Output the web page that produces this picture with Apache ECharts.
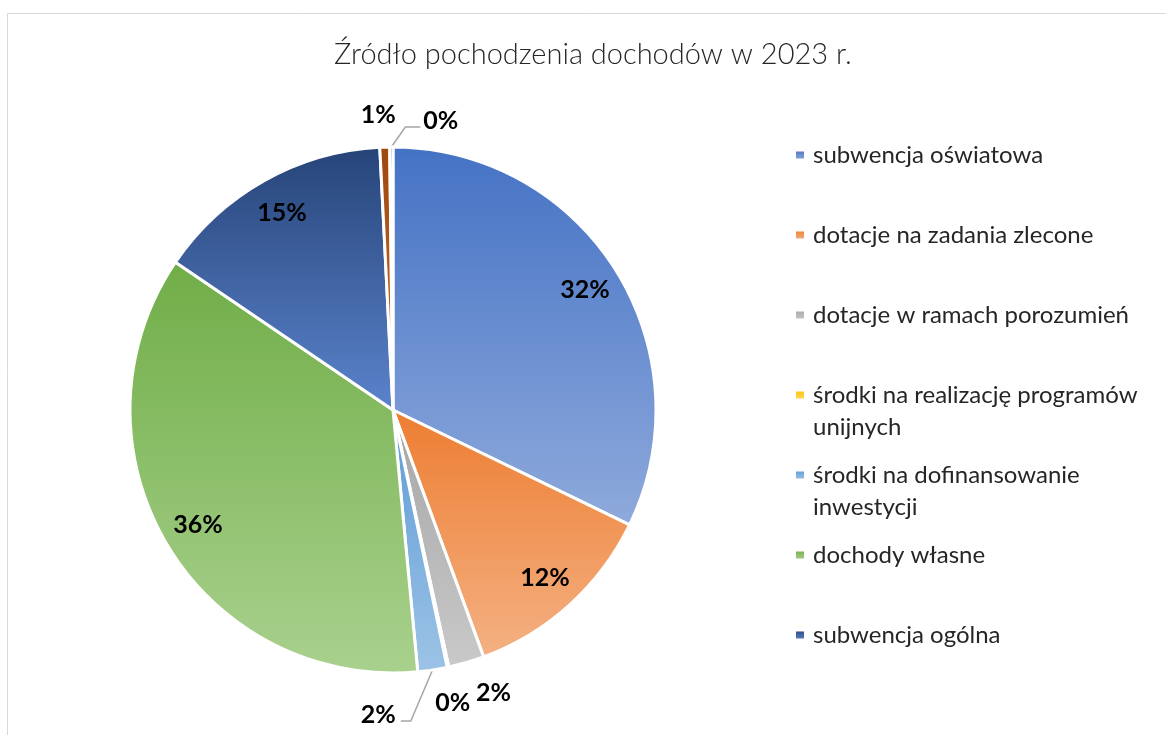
<!DOCTYPE html>
<html>
<head>
<meta charset="utf-8">
<title>Źródło pochodzenia dochodów w 2023 r.</title>
<script src="https://cdn.jsdelivr.net/npm/echarts@6/dist/echarts.min.js"></script>
<style>
  html, body { margin: 0; padding: 0; background: #fff; }
  #chart { width: 1166px; height: 735px; }
</style>
</head>
<body>
<div id="chart"></div>
<script>
const chartTitle = 'Źródło pochodzenia dochodów w 2023 r.'
const categories = [
  'subwencja oświatowa',
  'dotacje na zadania zlecone',
  'dotacje w ramach porozumień',
  'środki na realizację programów unijnych',
  'środki na dofinansowanie inwestycji',
  'dochody własne',
  'subwencja ogólna',
  'pozostałe dochody',
  'inne wpływy'
]
// udział w %
const shares = [32.2, 12.2, 2.2, 0.1, 1.8, 36.0, 14.7, 0.6, 0.2]
// legenda w oryginale pokazuje tylko 7 pierwszych pozycji
const legendCount = 7

const font = 'Lato'
// kolory Office z gradientem (góra -> dół)
const fills = [
  ['#4472C4', '#8FAADC'],
  ['#ED7D31', '#F4B183'],
  ['#A5A5A5', '#C9C9C9'],
  ['#FFC000', '#FFD966'],
  ['#5B9BD5', '#9DC3E6'],
  ['#70AD47', '#A9D18E'],
  ['#264478', '#5B83CC'],
  ['#9E480E', '#C87235'],
  ['#636363', '#A0A0A0']
]
// przesunięcia etykiet małych wycinków, z linią odniesienia lub bez
const smallLabels = {
  'dotacje w ramach porozumień': { shift: [4, 28], line: false },
  'środki na realizację programów unijnych': { shift: [-18, 34], line: false },
  'środki na dofinansowanie inwestycji': { shift: [-77, 43], line: true },
  'pozostałe dochody': { shift: [16, -30], line: false },
  'inne wpływy': { shift: [72, -24], line: true }
}

function gradient(pair) {
  return new echarts.graphic.LinearGradient(0, 0, 0, 1, [
    { offset: 0, color: pair[0] },
    { offset: 1, color: pair[1] }
  ])
}

function wrap(text, max) {
  const lines = []
  let cur = ''
  text.split(' ').forEach(w => {
    if (cur && (cur + ' ' + w).length > max) {
      lines.push(cur)
      cur = w
    } else {
      cur = cur ? cur + ' ' + w : w
    }
  })
  lines.push(cur)
  if (lines.length < 2) lines.push(' ')
  // pusta linia na górze: ikona legendy stoi wtedy na wysokości pierwszej linii tekstu,
  // a każda pozycja ma tę samą wysokość (jak w Excelu)
  return ' \n' + lines.join('\n')
}

const labelFont = {
  fontFamily: font,
  fontWeight: 'bold',
  fontSize: 25,
  color: '#000'
}
const pct = p => Math.round(p.percent) + '%'

const chart = echarts.init(document.getElementById('chart'))

chart.setOption({
  animation: false,
  title: {
    text: chartTitle,
    left: 593,
    top: 40,
    padding: 0,
    textAlign: 'center',
    textStyle: {
      fontFamily: font,
      fontWeight: 300,
      fontSize: 29,
      color: '#262626'
    }
  },
  graphic: [{
    type: 'rect',
    silent: true,
    z: -10,
    shape: { x: 7.5, y: 13.5, width: 1200, height: 800 },
    style: { fill: 'none', stroke: '#d9d9d9', lineWidth: 1 }
  }],
  legend: {
    orient: 'vertical',
    left: 794,
    top: 107,
    padding: 0,
    itemGap: -16,
    itemWidth: 10,
    itemHeight: 9,
    icon: 'rect',
    selectedMode: false,
    formatter: name => wrap(name, 30),
    textStyle: {
      fontFamily: font,
      fontSize: 24,
      lineHeight: 32,
      color: '#262626',
      padding: [0, 0, 0, 3],
      backgroundColor: 'rgba(255,255,255,0)'
    },
    data: categories.slice(0, legendCount)
  },
  series: [
    {
      type: 'pie',
      center: [393, 410],
      radius: 263,
      startAngle: 90,
      avoidLabelOverlap: false,
      itemStyle: { borderColor: '#fff', borderWidth: 3 },
      label: { show: false },
      labelLine: {
        show: false,
        length: 2,
        length2: 0,
        lineStyle: { color: '#a6a6a6', width: 1.5 }
      },
      labelLayout: params => {
        const cfg = smallLabels[categories[params.dataIndex]]
        if (!cfg) return {}
        const out = { dx: cfg.shift[0], dy: cfg.shift[1] }
        if (cfg.line && params.labelLinePoints) {
          const start = params.labelLinePoints[0]
          const r = params.labelRect
          const left = r.x + cfg.shift[0]
          const right = left + r.width
          const y = r.y + cfg.shift[1] + r.height / 2 + 6
          const onLeft = left + r.width / 2 < start[0]
          const end = onLeft ? [right + 5, y] : [left - 3, y]
          const elbow = [end[0] + (onLeft ? 10 : -15), y]
          out.labelLinePoints = [start, elbow, end]
        }
        return out
      },
      data: categories.map((name, i) => {
        const cfg = smallLabels[name]
        return {
          name: name,
          value: shares[i],
          itemStyle: { color: gradient(fills[i]) },
          label: cfg ? Object.assign({ show: true, position: 'outside', formatter: pct }, labelFont) : { show: false },
          labelLine: { show: !!(cfg && cfg.line) }
        }
      })
    },
    {
      // niewidoczny pierścień, który trzyma etykiety dużych wycinków bliżej krawędzi
      type: 'pie',
      silent: true,
      center: [393, 410],
      radius: [184, 263],
      startAngle: 90,
      itemStyle: { color: 'rgba(0,0,0,0)' },
      labelLine: { show: false },
      data: categories.map((name, i) => ({
        name: name,
        value: shares[i],
        label: smallLabels[name]
          ? { show: false }
          : Object.assign({ show: true, position: 'inside', formatter: pct }, labelFont)
      }))
    }
  ]
})
</script>
</body>
</html>
